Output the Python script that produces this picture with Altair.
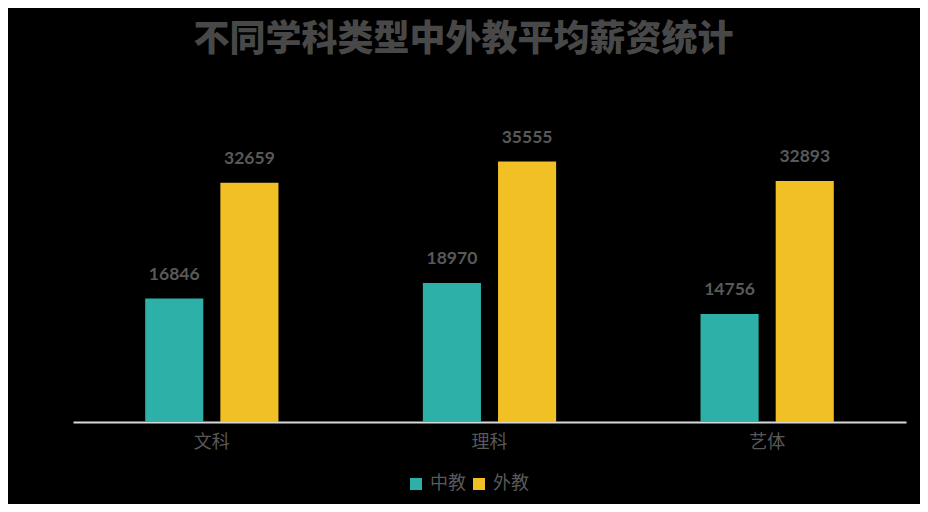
import altair as alt
import pandas as pd

categories = ["文科", "理科", "艺体"]
series = ["中教", "外教"]
zhong = [16846, 18970, 14756]
wai = [32659, 35555, 32893]
colors = ["#2DB0A8", "#F0C024"]

rows = []
for i, c in enumerate(categories):
    rows.append({"学科": c, "类别": series[0], "薪资": zhong[i]})
    rows.append({"学科": c, "类别": series[1], "薪资": wai[i]})
df = pd.DataFrame(rows)

base = alt.Chart(df).encode(
    x=alt.X(
        "学科:N",
        sort=categories,
        scale=alt.Scale(paddingInner=0.52, paddingOuter=0.26),
        axis=alt.Axis(
            title=None, labelAngle=0, ticks=False, domainColor="#d9d9d9",
            domainWidth=2, labelFont="Noto Sans CJK SC", labelFontSize=18,
            labelColor="#595959", labelPadding=11,
        ),
    ),
    xOffset=alt.XOffset("类别:N", sort=series,
                        scale=alt.Scale(paddingInner=0.227, paddingOuter=0)),
    y=alt.Y("薪资:Q", scale=alt.Scale(domain=[0, 40000]), axis=None),
)

bars = base.mark_bar().encode(
    color=alt.Color(
        "类别:N", sort=series,
        scale=alt.Scale(domain=series, range=colors),
        legend=alt.Legend(
            title=None, orient="none", legendX=334, legendY=346,
            direction="horizontal", symbolType="square", symbolSize=144,
            symbolStrokeWidth=0, labelFont="Noto Sans CJK SC", labelFontSize=18,
            labelColor="#595959", columnPadding=4, padding=0, labelOffset=5,
        ),
    )
)

text = base.mark_text(
    dy=-24, fontSize=17.5, fontWeight="bold", color="#595959", font="Lato",
    baseline="middle",
).encode(text=alt.Text("薪资:Q", format="d"))

chart = (
    alt.layer(bars, text)
    .properties(
        width=833, height=293,
        title=alt.TitleParams(
            "不同学科类型中外教平均薪资统计", font="Noto Sans CJK SC",
            fontSize=36, fontWeight=900, color="#484848", anchor="middle",
            offset=70, dx=-26,
        ),
        background="#000000",
        padding={"left": 65, "top": 121, "right": 14, "bottom": 82},
        autosize=alt.AutoSizeParams(type="none"),
    )
    .configure_view(stroke=None)
)

chart.save("out.html", embed_options={"renderer": "svg", "actions": False})
